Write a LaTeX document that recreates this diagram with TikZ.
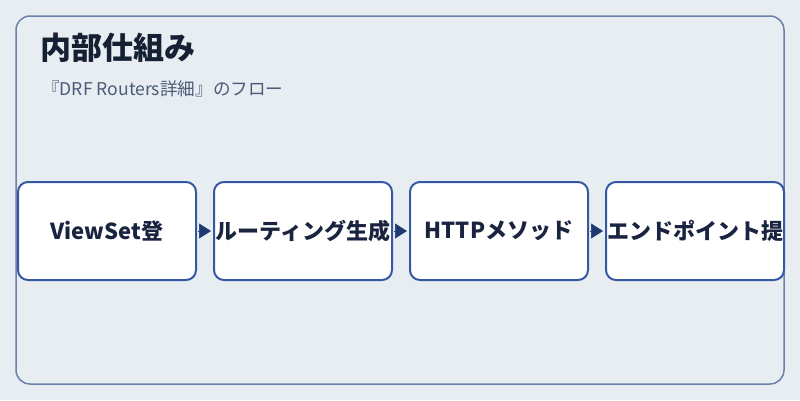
\documentclass[tikz,border=0pt]{standalone}
\usepackage{fontspec}
\setmainfont{Noto Sans CJK JP}
\usetikzlibrary{arrows.meta}
\definecolor{bg}{HTML}{E8EDF2}
\definecolor{frame}{HTML}{6C82AA}
\definecolor{boxline}{HTML}{3558A3}
\definecolor{titlec}{HTML}{152033}
\definecolor{subc}{HTML}{4A5A78}
\definecolor{txtc}{HTML}{1A2440}
\definecolor{arrowc}{HTML}{1F3A70}
\tikzset{
  stepbox/.style={draw=boxline, line width=2pt, fill=white, rounded corners=10pt,
    minimum width=178pt, minimum height=98pt, inner sep=0pt, anchor=north west,
    font=\fontsize{22}{26}\selectfont\bfseries, text=txtc},
  flow/.style={draw=arrowc, line width=0.5pt, -{Triangle[length=12pt,width=15pt]}, fill=arrowc, shorten >=2pt, shorten <=1pt}
}
\begin{document}
\begin{tikzpicture}[x=1pt,y=-1pt]
\fill[bg] (0,0) rectangle (800,400);
\useasboundingbox (0,0) rectangle (800,400);
\draw[frame, line width=1.5pt, rounded corners=14pt] (16,16) rectangle (784,384);
\node[anchor=west, text=titlec, font=\fontsize{31}{35}\selectfont\bfseries, inner sep=0pt] (title) at (40,48) {内部仕組み};
\node[anchor=west, text=subc, font=\fontsize{17.6}{21}\selectfont, inner sep=0pt] (sub) at (42,89) {『DRF Routers詳細』のフロー};
\node[stepbox] (b1) at (17,181) {ViewSet登};
\node[stepbox] (b2) at (213,181) {ルーティング生成};
\node[stepbox] (b3) at (409,181) {HTTPメソッド};
\node[stepbox] (b4) at (605,181) {エンドポイント提};
\draw[flow] (b1.east) -- (b2.west);
\draw[flow] (b2.east) -- (b3.west);
\draw[flow] (b3.east) -- (b4.west);
\end{tikzpicture}
\end{document}
